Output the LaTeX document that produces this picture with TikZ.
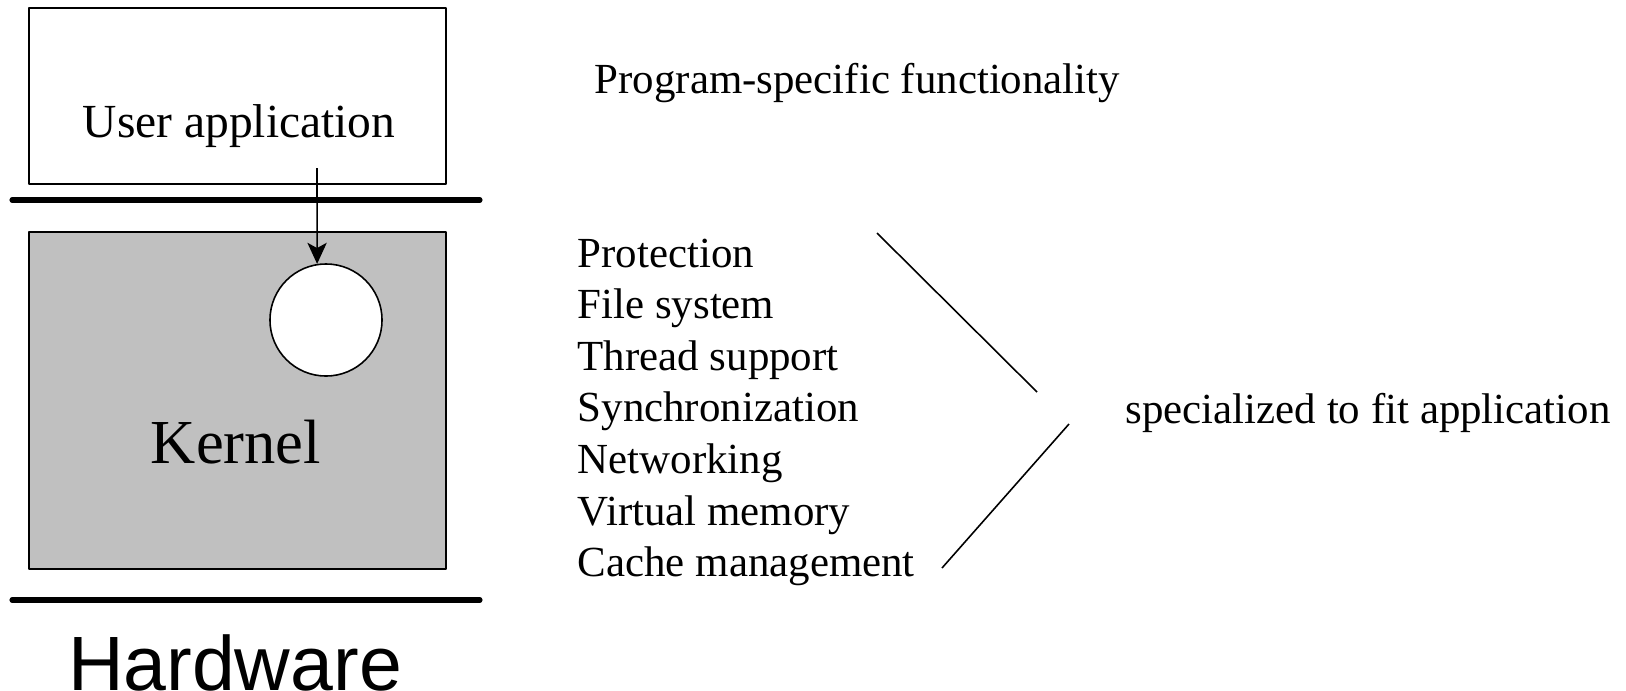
\documentclass[tikz,border=0pt]{standalone}
\usepackage{fontspec}
\setmainfont{Liberation Serif}
\setsansfont{Liberation Sans}
\usetikzlibrary{arrows.meta}
\definecolor{kernelgray}{RGB}{192,192,192}
\tikzset{
  layerbox/.style={draw, line width=0.45pt},
  layerline/.style={line width=1.45pt, line cap=round},
  listtext/.style={anchor=base west, inner sep=0pt, font=\fontsize{12.2}{14}\selectfont},
}

\begin{document}
\begin{tikzpicture}[x=0.01cm, y=-0.01cm, >={Stealth[length=6pt,width=5.5pt,inset=1.5pt]}, line join=round]
  \useasboundingbox (0,0) rectangle (1626,690);
  % user level
  \draw[layerbox] (29,8) rectangle (446,184);
  \node[anchor=base, inner sep=0pt, font=\fontsize{13.5}{16}\selectfont] (ua) at (239,137) {User application};
  \draw[layerline] (12,200) -- (480,200);
  % kernel
  \draw[layerbox, fill=kernelgray] (29,232) rectangle (446,569);
  \node[circle, draw, fill=white, minimum size=1.12cm, inner sep=0pt, line width=0.45pt] (kc) at (326,320) {};
  \node[anchor=base, inner sep=0pt, font=\fontsize{17.8}{20}\selectfont] (kn) at (236,463) {Kernel};
  \coordinate (call) at (317,168);
  \draw[->, line width=0.45pt] (call) -- (kc.99);
  % hardware
  \draw[layerline] (12,600) -- (480,600);
  \node[anchor=base, inner sep=0pt, font=\sffamily\fontsize{21.9}{24}\selectfont] (hw) at (235,690) {Hardware};
  % right side
  \node[listtext] (psf) at (594,93) {Program-specific functionality};
  \foreach \txt [count=\i] in {Protection, File system, Thread support, Synchronization, Networking, Virtual memory, Cache management}
    \node[listtext] (it\i) at (577,{267+51.6*(\i-1)}) {\txt};
  \node[listtext] (spec) at (1125,423) {specialized to fit application};
  \coordinate (b1) at (877,233); \coordinate (b2) at (1037,392);
  \coordinate (b3) at (1069,424); \coordinate (b4) at (942,568);
  \draw[line width=0.45pt] (b1) -- (b2);
  \draw[line width=0.45pt] (b3) -- (b4);
\end{tikzpicture}
\end{document}
